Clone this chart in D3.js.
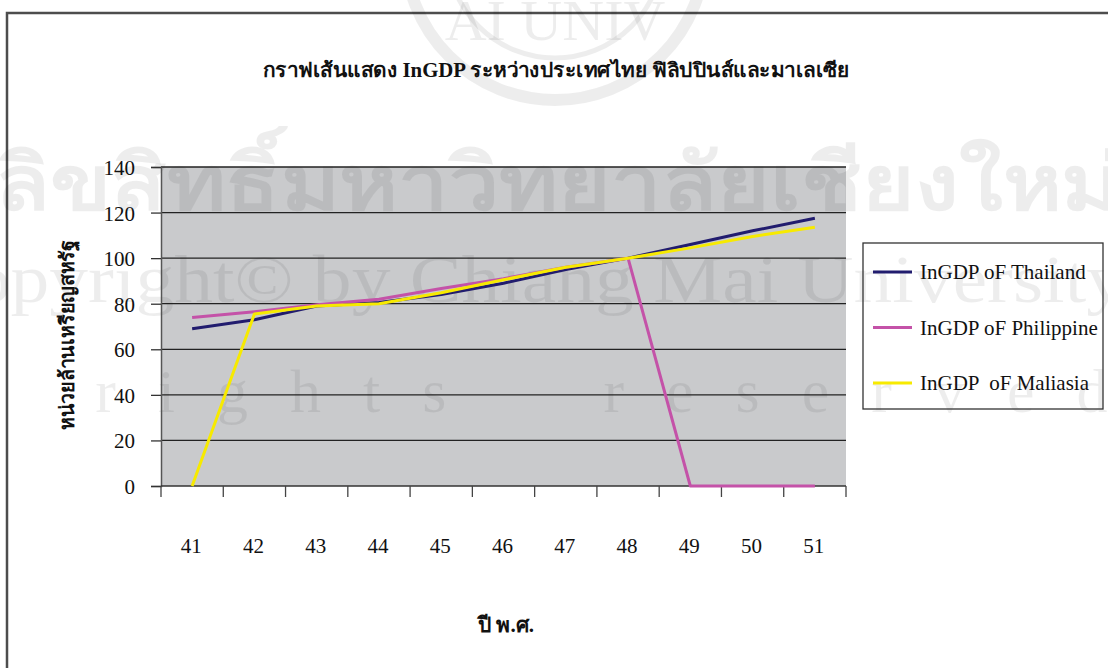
<!DOCTYPE html>
<html><head><meta charset="utf-8">
<script src="https://cdn.jsdelivr.net/npm/d3@7"></script>
<style>body{margin:0;background:#fff}svg{display:block}</style>
</head><body><svg id="c" width="1108" height="668"></svg>
<script>
const years = ["41","42","43","44","45","46","47","48","49","50","51"];
const thailand   = [69, 73, 79, 80.5, 84, 89, 95, 100, 106, 112, 117.5];
const philippine = [74, 76.5, 79.5, 82, 86.7, 91, 96, 100, 0, 0, 0];
const malaysia   = [0, 75.5, 79, 80, 84.8, 90.5, 96, 100, 104.5, 109.5, 113.6];
const yTicks = [0, 20, 40, 60, 80, 100, 120, 140];
const seriesNames = ["InGDP oF Thailand", "InGDP oF Philippine", "InGDP  oF Maliasia"];
const seriesColors = ["#211c6e", "#c452a8", "#f7ea00"];
const chartTitle = "กราฟเส้นแสดง InGDP ระหว่างประเทศไทย ฟิลิปปินส์และมาเลเซีย";
const yTitle = "หน่วยล้านเหรียญสหรัฐ";
const xTitle = "ปี พ.ศ.";

const series = [thailand, philippine, malaysia];
const svg = d3.select("#c");
const serif = "Liberation Serif, Times New Roman, serif";

const L = 161, R = 846, T = 167, B = 486;
const x = d3.scaleBand().domain(years).range([L, R]);
const y = d3.scaleLinear().domain([0, 140]).range([B, T]);

// outer frame
svg.append("rect").attr("x", 7).attr("y", 13).attr("width", 1120).attr("height", 700)
  .attr("fill", "#fff").attr("stroke", "#4d4d4d").attr("stroke-width", 2.5);

// plot background
svg.append("rect").attr("x", L).attr("y", T).attr("width", R - L).attr("height", B - T)
  .attr("fill", "#c9cacc");

// watermark
const wm = svg.append("g").attr("fill", "#000").attr("fill-opacity", 0.07).attr("pointer-events", "none");
wm.append("circle").attr("cx", 555).attr("cy", -50).attr("r", 150).attr("fill", "none")
  .attr("stroke", "#000").attr("stroke-opacity", 0.07).attr("stroke-width", 12);
wm.append("circle").attr("cx", 555).attr("cy", -50).attr("r", 108).attr("fill", "none")
  .attr("stroke", "#000").attr("stroke-opacity", 0.07).attr("stroke-width", 5);
wm.append("text").attr("x", 555).attr("y", 40).attr("text-anchor", "middle")
  .attr("font-family", serif).attr("font-size", 58).text("AI UNIV");
wm.append("text").attr("x", -5).attr("y", 210).attr("textLength", 1125).attr("lengthAdjust", "spacingAndGlyphs")
  .attr("font-family", "DejaVu Sans, sans-serif").attr("font-weight", "bold").attr("font-size", 78)
  .text("ลิขสิทธิ์มหาวิทยาลัยเชียงใหม่");
wm.append("text").attr("x", -80).attr("y", 302).attr("textLength", 1205).attr("lengthAdjust", "spacingAndGlyphs")
  .attr("font-family", serif).attr("font-size", 68)
  .text("Copyright© by Chiang Mai University");
wm.append("text").attr("x", -225).attr("y", 412).style("white-space", "pre")
  .attr("letter-spacing", 42).attr("font-family", serif).attr("font-size", 62)
  .text("All  rights  reserved");

// gridlines
svg.append("g").selectAll("line").data(yTicks.filter(d => d > 0)).join("line")
  .attr("x1", L).attr("x2", R).attr("y1", d => y(d)).attr("y2", d => y(d))
  .attr("stroke", "#222").attr("stroke-width", 1.3);

// y axis
const yAxis = d3.axisLeft(y).tickValues(yTicks).tickSize(10).tickPadding(16);
const gy = svg.append("g").attr("transform", `translate(${L},0)`).call(yAxis)
  .attr("font-family", serif).attr("font-size", 21);
gy.select(".domain").attr("stroke", "#555").attr("stroke-width", 1.5);
gy.selectAll(".tick line").attr("stroke", "#333").attr("stroke-width", 1.3);
gy.selectAll(".tick text").attr("fill", "#111").attr("dy", "0.36em");

// x axis: ticks at category boundaries
const gx = svg.append("g").attr("font-family", serif).attr("font-size", 21);
gx.append("line").attr("x1", L).attr("x2", R).attr("y1", B).attr("y2", B)
  .attr("stroke", "#333").attr("stroke-width", 1.5);
const bounds = years.map(d => x(d)).concat([x(years[years.length - 1]) + x.bandwidth()]);
gx.selectAll("line.tk").data(bounds).join("line").attr("class", "tk")
  .attr("x1", d => d).attr("x2", d => d).attr("y1", B).attr("y2", B + 11)
  .attr("stroke", "#444").attr("stroke-width", 1.3);
gx.selectAll("text").data(years).join("text")
  .attr("x", d => x(d) + x.bandwidth() / 2 - 1).attr("y", 553)
  .attr("text-anchor", "middle").attr("fill", "#111")
  .text(d => d);

// lines
const line = d3.line().x((d, i) => x(years[i]) + x.bandwidth() / 2).y(d => y(d));
svg.append("g").selectAll("path").data(series).join("path")
  .attr("d", d => line(d)).attr("fill", "none")
  .attr("stroke", (d, i) => seriesColors[i]).attr("stroke-width", 3)
  .attr("stroke-linejoin", "round");

// titles
svg.append("text").attr("x", 263).attr("y", 77).attr("textLength", 587).attr("lengthAdjust", "spacingAndGlyphs")
  .attr("font-family", serif).attr("font-weight", "bold").attr("font-size", 20).attr("fill", "#111")
  .text(chartTitle);
svg.append("text").attr("transform", "translate(74,430) rotate(-90)").attr("textLength", 190)
  .attr("lengthAdjust", "spacingAndGlyphs")
  .attr("font-family", serif).attr("font-weight", "bold").attr("font-size", 20).attr("fill", "#111")
  .text(yTitle);
svg.append("text").attr("x", 506).attr("y", 632).attr("text-anchor", "middle")
  .attr("font-family", serif).attr("font-weight", "bold").attr("font-size", 21).attr("fill", "#111")
  .text(xTitle);

// legend
const lg = svg.append("g");
lg.append("rect").attr("x", 863).attr("y", 243).attr("width", 240).attr("height", 166)
  .attr("fill", "none").attr("stroke", "#333").attr("stroke-width", 1.3);
const ly = d3.scalePoint().domain(seriesNames).range([272, 383]);
seriesNames.forEach((n, i) => {
  lg.append("line").attr("x1", 873).attr("x2", 912).attr("y1", ly(n)).attr("y2", ly(n))
    .attr("stroke", seriesColors[i]).attr("stroke-width", 3);
  lg.append("text").attr("x", 920).attr("y", ly(n) + 7).style("white-space", "pre")
    .attr("font-family", serif).attr("font-size", 21).attr("fill", "#111").text(n);
});
</script></body></html>
